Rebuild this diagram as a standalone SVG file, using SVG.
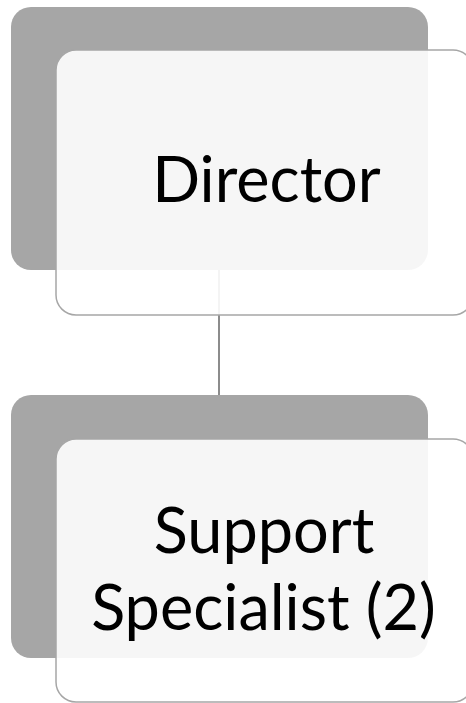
<svg xmlns="http://www.w3.org/2000/svg" width="466" height="703" viewBox="0 0 466 703">
  <style>
    .back { fill: #a6a6a6; }
    .front { fill: #ffffff; fill-opacity: 0.9; stroke: #a6a6a6; stroke-width: 1.5; }
    .label { font-family: Lato, "Open Sans", "Liberation Sans", sans-serif; font-size: 63px; fill: #000000; text-anchor: middle; }
    .link { stroke: #8c8c8c; stroke-width: 2; fill: none; }
  </style>
  <rect width="466" height="703" fill="#ffffff"/>
  <g id="connectors">
    <line class="link" x1="219" y1="270" x2="219" y2="395"/>
  </g>
  <g id="director">
    <rect class="back" x="11" y="7" width="417" height="263" rx="20"/>
    <rect class="front" x="56" y="50" width="417" height="265" rx="20"/>
    <text class="label" x="266.5" y="202">Director</text>
  </g>
  <g id="support-specialist">
    <rect class="back" x="11" y="395" width="417" height="263" rx="20"/>
    <rect class="front" x="56" y="439" width="417" height="263" rx="20"/>
    <text class="label" x="264" y="553">Support</text>
    <text class="label" x="263.5" y="630">Specialist (2)</text>
  </g>
</svg>
